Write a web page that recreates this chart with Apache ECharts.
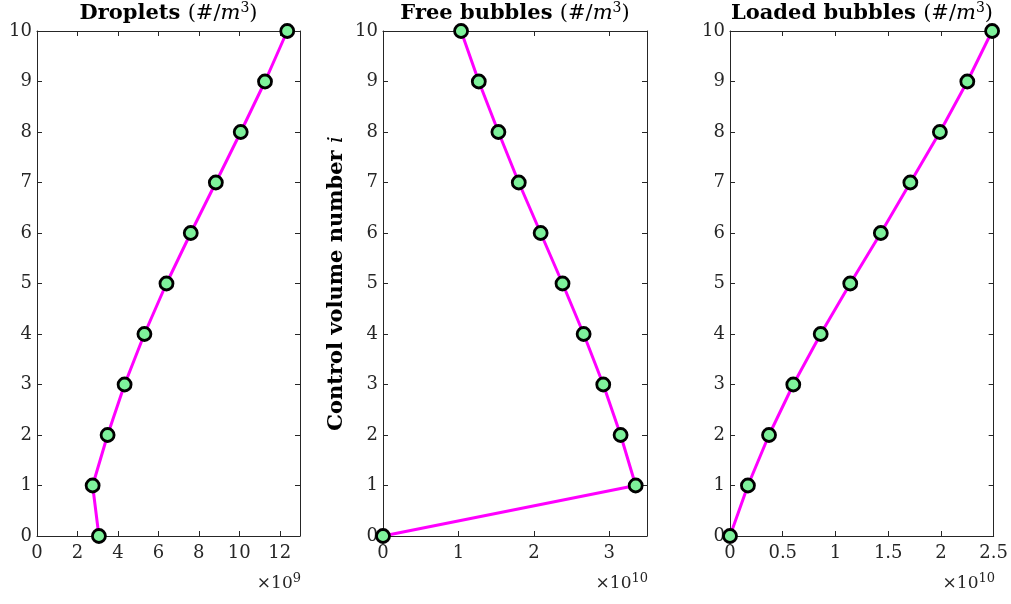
<!DOCTYPE html>
<html>
<head>
<meta charset="utf-8">
<script src="https://cdn.jsdelivr.net/npm/echarts@6/dist/echarts.min.js"></script>
<style>
  html, body { margin: 0; padding: 0; background: #fff; }
  #main { width: 1011px; height: 604px; }
</style>
</head>
<body>
<div id="main"></div>
<script>
// control volume index (y axis)
const volumes = [0, 1, 2, 3, 4, 5, 6, 7, 8, 9, 10]

// values, in units of 1e9 / 1e10
const droplets = [3.06, 2.75, 3.49, 4.33, 5.31, 6.40, 7.60, 8.84, 10.07, 11.27, 12.37] // x1e9
const freeBubbles = [0, 3.35, 3.15, 2.92, 2.66, 2.38, 2.09, 1.80, 1.53, 1.27, 1.035] // x1e10
const loadedBubbles = [0, 0.17, 0.37, 0.60, 0.86, 1.14, 1.43, 1.71, 1.99, 2.25, 2.485] // x1e10

const panelTitles = ['Droplets', 'Free bubbles', 'Loaded bubbles']
const exponents = ['9', '10', '10']
const xMax = [13, 3.5, 2.5]
const xStep = [2, 1, 0.5]

const FONT = 'DejaVu Serif'
const AXIS = '#262626'
const LINE = '#ff00ff'
const FILL = '#7ef29b'

const panels = [
  { left: 37, width: 263 },
  { left: 383, width: 264 },
  { left: 730, width: 264 },
]
const TOP = 31
const HEIGHT = 505

const chart = echarts.init(document.getElementById('main'), null, { renderer: 'canvas' })

const series = [droplets, freeBubbles, loadedBubbles]

const grid = panels.map(p => ({
  left: p.left, top: TOP, width: p.width, height: HEIGHT, containLabel: false,
}))

const tickStyle = { inside: true, length: 5, lineStyle: { color: AXIS, width: 1 } }
const lineStyle = { show: true, onZero: false, lineStyle: { color: AXIS, width: 1 } }

const xAxis = []
const yAxis = []
panels.forEach((p, i) => {
  xAxis.push({
    type: 'value', gridIndex: i, position: 'bottom',
    min: 0, max: xMax[i], interval: xStep[i],
    axisLine: lineStyle, axisTick: tickStyle, splitLine: { show: false },
    axisLabel: {
      color: AXIS, fontFamily: FONT, fontSize: 18, margin: 8,
      formatter: v => (Math.abs(v / xStep[i] - Math.round(v / xStep[i])) < 1e-9 ? String(v) : ''),
    },
  })
  xAxis.push({
    type: 'value', gridIndex: i, position: 'top',
    min: 0, max: xMax[i], interval: xStep[i],
    axisLine: lineStyle, axisTick: tickStyle, splitLine: { show: false },
    axisLabel: { show: false },
  })
  yAxis.push({
    type: 'value', gridIndex: i, position: 'left',
    min: 0, max: 10, interval: 1,
    axisLine: lineStyle, axisTick: tickStyle, splitLine: { show: false },
    axisLabel: { color: AXIS, fontFamily: FONT, fontSize: 18, margin: 5 },
    name: i === 1 ? '{b|Control volume number }{i|i}' : '',
    nameLocation: 'middle', nameGap: 36, nameRotate: 90,
    nameTextStyle: {
      rich: {
        b: { fontFamily: FONT, fontSize: 21, fontWeight: 'bold', color: '#000' },
        i: { fontFamily: FONT, fontSize: 21, fontStyle: 'italic', color: '#000' },
      },
    },
  })
  yAxis.push({
    type: 'value', gridIndex: i, position: 'right',
    min: 0, max: 10, interval: 1,
    axisLine: lineStyle, axisTick: tickStyle, splitLine: { show: false },
    axisLabel: { show: false },
  })
})

const lineSeries = series.map((vals, i) => ({
  type: 'line',
  xAxisIndex: 2 * i, yAxisIndex: 2 * i,
  data: vals.map((v, k) => [v, volumes[k]]),
  symbol: 'circle', symbolSize: 13,
  lineStyle: { color: LINE, width: 3 },
  itemStyle: { color: FILL, borderColor: '#000', borderWidth: 2.8 },
  z: 3, clip: false, animation: false,
}))

const richTitle = {
  b: { fontFamily: FONT, fontSize: 21, fontWeight: 'bold', fill: '#000' },
  n: { fontFamily: FONT, fontSize: 21, fill: '#000' },
  m: { fontFamily: FONT, fontSize: 21, fontStyle: 'italic', fill: '#000' },
  s: { fontFamily: FONT, fontSize: 14, fill: '#000', padding: [0, 0, 11, 0] },
}
const richExp = {
  n: { fontFamily: FONT, fontSize: 17, fill: AXIS },
  s: { fontFamily: FONT, fontSize: 13, fill: AXIS, padding: [0, 0, 10, 0] },
}

const graphic = []
panels.forEach((p, i) => {
  graphic.push({
    type: 'text',
    x: p.left + p.width / 2, y: 26,
    style: {
      text: '{b|' + panelTitles[i] + ' }{n|(#/}{m|m}{s|3}{n|)}',
      rich: richTitle, align: 'center', verticalAlign: 'bottom',
    },
  })
  graphic.push({
    type: 'text',
    x: p.left + p.width + 1, y: 595,
    style: {
      text: '{n|×10}{s|' + exponents[i] + '}',
      rich: richExp, align: 'right', verticalAlign: 'bottom',
    },
  })
})

chart.setOption({
  backgroundColor: '#fff',
  animation: false,
  grid, xAxis, yAxis,
  series: lineSeries,
  graphic,
})
</script>
</body>
</html>
